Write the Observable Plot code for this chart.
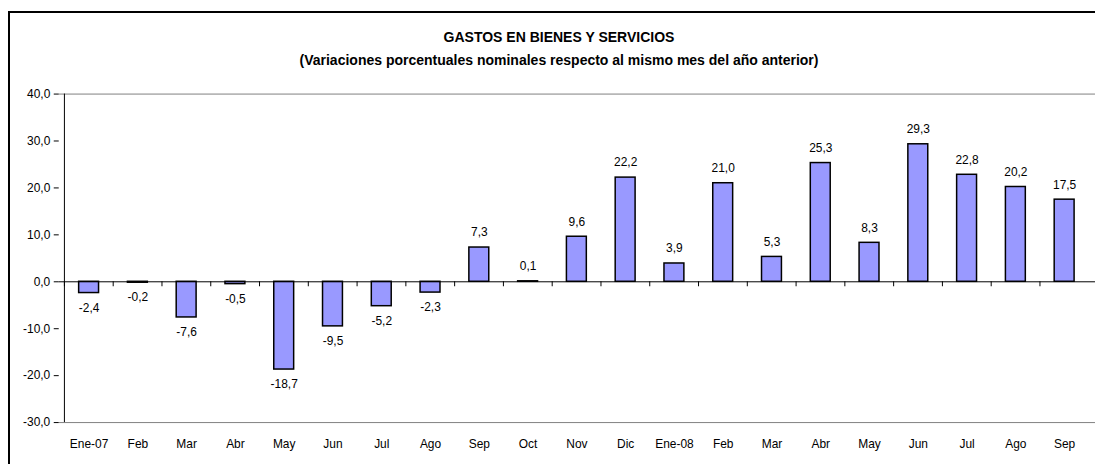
<!DOCTYPE html>
<html>
<head>
<meta charset="utf-8">
<script src="https://cdn.jsdelivr.net/npm/d3@7"></script>
<script src="https://cdn.jsdelivr.net/npm/@observablehq/plot@0.6"></script>
<style>
  html, body { margin: 0; padding: 0; background: white; overflow: hidden; }
  #wrap { position: relative; width: 1095px; height: 464px; overflow: hidden; font-family: "Liberation Sans", Arial, sans-serif; }
  .fl { position: absolute; background: black; }
  .title { position: absolute; left: 0; width: 1118px; text-align: center; font-weight: bold; font-size: 14px; line-height: 16px; color: black; }
  #chart { position: absolute; left: 0; top: 0; width: 1095px; height: 464px; overflow: hidden; }
</style>
</head>
<body>
<div id="wrap">
  <div class="fl" style="left:8px; top:11px; width:1087px; height:2px;"></div>
  <div class="fl" style="left:8px; top:11px; width:2px; height:453px;"></div>
  <div class="title" style="top:29px">GASTOS EN BIENES Y SERVICIOS</div>
  <div class="title" style="top:52px">(Variaciones porcentuales nominales respecto al mismo mes del año anterior)</div>
  <div id="chart"></div>
</div>
<script>
const months = ["Ene-07","Feb","Mar","Abr","May","Jun","Jul","Ago","Sep","Oct","Nov","Dic","Ene-08","Feb","Mar","Abr","May","Jun","Jul","Ago","Sep"];
const values = [-2.4,-0.2,-7.6,-0.5,-18.7,-9.5,-5.2,-2.3,7.3,0.1,9.6,22.2,3.9,21.0,5.3,25.3,8.3,29.3,22.8,20.2,17.5];
const yTicks = [-30,-20,-10,0,10,20,30,40];

const fmt = v => (v < 0 ? "-" : "") + Math.abs(v).toFixed(1).replace(".", ",");
const data = months.map((m, i) => ({i, m, v: values[i]}));
const pos = data.filter(d => d.v >= 0);
const neg = data.filter(d => d.v < 0);

const W = 1100, ML = 59, MR = 0;
const step = (W - ML - MR) / months.length;

const chart = Plot.plot({
  width: W, height: 464,
  marginTop: 94, marginBottom: 40, marginLeft: ML, marginRight: MR,
  style: {fontFamily: "'Liberation Sans', Arial, sans-serif", fontSize: "12px", color: "black", background: "transparent"},
  x: {domain: d3.range(months.length), paddingInner: 0.59, paddingOuter: 0.295, label: null},
  y: {domain: [-30, 40], label: null},
  marks: [
    Plot.ruleY([40, -30], {stroke: "#808080", strokeWidth: 1}),
    Plot.barY(data, {x: "i", y: "v", fill: "#9999FF", stroke: "black", strokeWidth: 1.5}),
    Plot.ruleY([0], {stroke: "black", strokeWidth: 1}),
    Plot.ruleX(d3.range(months.length), {x: d => d, y1: 0, y2: 0, insetBottom: -5, dx: -step / 2, stroke: "black"}),
    Plot.ruleX([0], {x: d => d, y1: -30, y2: 40, dx: -step / 2, stroke: "black"}),
    Plot.text(pos, {x: "i", y: "v", text: d => fmt(d.v), dy: -15, fill: "black", fontSize: 12}),
    Plot.text(neg, {x: "i", y: "v", text: d => fmt(d.v), dy: 15, fill: "black", fontSize: 12}),
    Plot.axisY({ticks: yTicks, tickFormat: fmt, tickSize: 5, tickPadding: 4, fontSize: 12}),
    Plot.axisX({tickSize: 0, tickPadding: 17, tickFormat: i => months[i], fontSize: 12})
  ]
});
document.getElementById("chart").appendChild(chart);
</script>
</body>
</html>
